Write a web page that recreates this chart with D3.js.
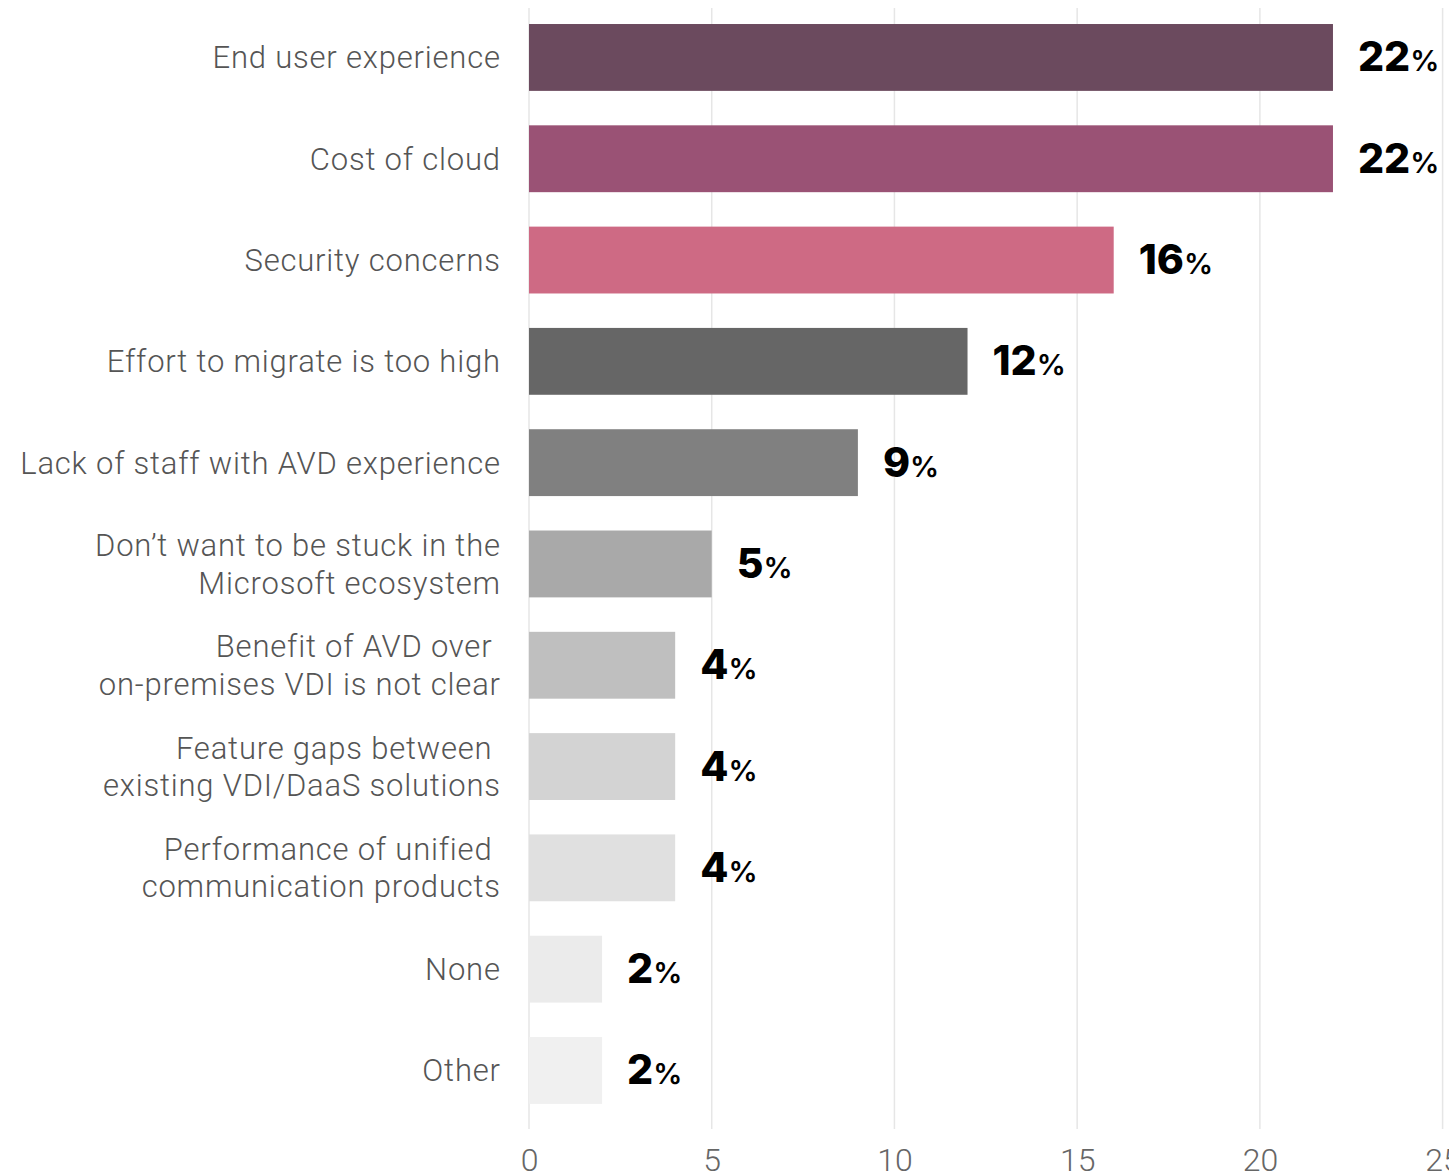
<!DOCTYPE html>
<html>
<head>
<meta charset="utf-8">
<script src="https://cdn.jsdelivr.net/npm/d3@7"></script>
<style>
  html, body { margin: 0; padding: 0; background: #fff; }
  svg { display: block; }
</style>
</head>
<body>
<svg id="chart" width="1449" height="1174"></svg>
<script>
// Reasons for not adopting Azure Virtual Desktop (share of respondents, %)
const categories = [
  ["End user experience"],
  ["Cost of cloud"],
  ["Security concerns"],
  ["Effort to migrate is too high"],
  ["Lack of staff with AVD experience"],
  ["Don\u2019t want to be stuck in the", "Microsoft ecosystem"],
  ["Benefit of AVD over ", "on-premises VDI is not clear"],
  ["Feature gaps between ", "existing VDI/DaaS solutions"],
  ["Performance of unified ", "communication products"],
  ["None"],
  ["Other"]
];
const values = [22, 22, 16, 12, 9, 5, 4, 4, 4, 2, 2];
const barColors = ["#6b4a5e", "#9a5275", "#ce6a84", "#666666", "#808080",
                   "#a9a9a9", "#bfbfbf", "#d3d3d3", "#e0e0e0", "#ebebeb", "#f0f0f0"];
const xTicks = [0, 5, 10, 15, 20, 25];

const svg = d3.select("#chart");
const x = d3.scaleLinear().domain([0, 25]).range([529, 1442.6]);
const y = d3.scaleBand()
  .domain(d3.range(values.length))
  .range([6.8, 1121.1])
  .paddingInner(0.34)
  .paddingOuter(0.17);

// vertical grid lines
svg.append("g")
  .selectAll("line")
  .data(xTicks)
  .join("line")
  .attr("x1", d => x(d)).attr("x2", d => x(d))
  .attr("y1", 8).attr("y2", 1129)
  .attr("stroke", "#e6e6e6")
  .attr("stroke-width", 1.5);

// bottom axis labels
const xAxis = d3.axisBottom(x).tickValues(xTicks).tickSize(0).tickPadding(0);
const gx = svg.append("g").attr("transform", "translate(0,1171)").call(xAxis);
gx.select(".domain").remove();
gx.selectAll("text")
  .attr("y", 0)
  .attr("dy", 0)
  .attr("fill", "#666")
  .style("font-family", "Roboto, sans-serif")
  .style("font-weight", 300)
  .style("font-size", "32px");

// bars
svg.append("g")
  .selectAll("rect")
  .data(values)
  .join("rect")
  .attr("x", x(0))
  .attr("y", (d, i) => y(i))
  .attr("width", d => x(d) - x(0))
  .attr("height", y.bandwidth())
  .attr("fill", (d, i) => barColors[i]);

// category labels
const lineGap = 37.5;
const spacing = 0.8;
const cat = svg.append("g")
  .selectAll("text")
  .data(categories)
  .join("text")
  .attr("text-anchor", "end")
  .attr("fill", "#555")
  .style("font-family", "Roboto, sans-serif")
  .style("font-weight", 300)
  .style("font-size", "31px")
  .style("letter-spacing", spacing + "px")
  .style("white-space", "pre");
cat.each(function(lines, i) {
  const cy = y(i) + y.bandwidth() / 2;
  const off = -(lines.length - 1) * lineGap / 2;
  d3.select(this).selectAll("tspan")
    .data(lines)
    .join("tspan")
    .attr("x", 500 + spacing)
    .attr("y", (l, j) => cy + off + j * lineGap)
    .attr("dy", "0.35em")
    .text(l => l);
});

// value labels
const vl = svg.append("g")
  .selectAll("text")
  .data(values)
  .join("text")
  .attr("x", d => x(d) + 25)
  .attr("y", (d, i) => y(i) + y.bandwidth() / 2 + 14)
  .attr("fill", "#000")
  .style("font-family", "Inter, sans-serif")
  .style("font-weight", 800);
vl.append("tspan").style("font-size", "41px").text(d => d);
vl.append("tspan").style("font-size", "29px").style("font-weight", 600).text("%");
</script>
</body>
</html>
